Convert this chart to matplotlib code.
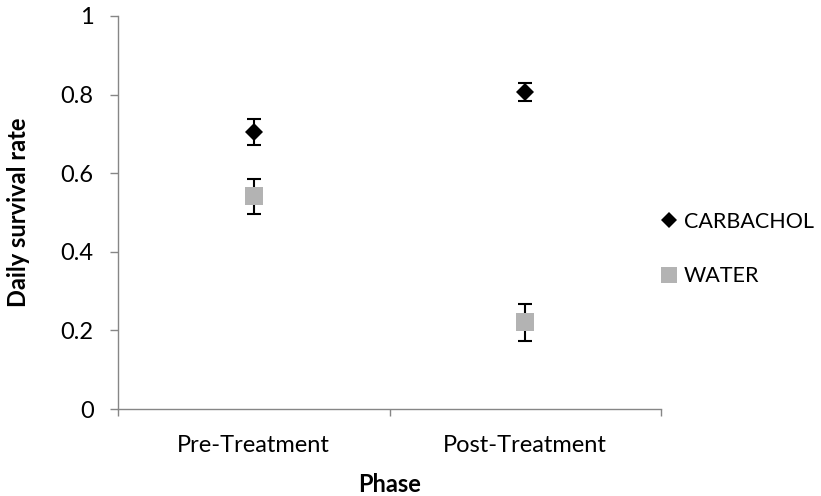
import matplotlib
matplotlib.use("Agg")
import matplotlib.pyplot as plt
from matplotlib.lines import Line2D

phases = ["Pre-Treatment", "Post-Treatment"]
carbachol = [0.705, 0.807]
carbachol_err = [0.032, 0.023]
water = [0.541, 0.221]
water_err = [0.044, 0.047]
series_names = ["CARBACHOL", "WATER"]
yticks = [0, 0.2, 0.4, 0.6, 0.8, 1]
ytick_labels = ["0", "0.2", "0.4", "0.6", "0.8", "1"]

plt.rcParams['font.family'] = ['Lato', 'DejaVu Sans']
FS = 17
W, H = 821, 496
fig = plt.figure(figsize=(W / 100, H / 100), dpi=100)
ax = fig.add_axes([118 / W, (H - 409) / H, (661 - 118) / W, (409 - 16) / H])

xpos = [i + 0.5 for i in range(len(phases))]
for vals, errs in [(carbachol, carbachol_err), (water, water_err)]:
    ax.errorbar(xpos, vals, yerr=errs, fmt='none', ecolor='black',
                elinewidth=1.5, capsize=4.7, capthick=1.5, zorder=2)
ax.plot(xpos, carbachol, linestyle='none', marker='D', color='black',
        markersize=9.2, markeredgewidth=0, zorder=3)
ax.plot(xpos, water, linestyle='none', marker='s', color='#B3B3B3',
        markersize=13.5, markeredgewidth=0, zorder=3)

ax.set_xlim(0, len(phases))
ax.set_ylim(0, 1)
ax.set_yticks(yticks)
ax.set_yticklabels(ytick_labels, fontsize=FS)
ax.set_xticks(range(len(phases) + 1))
ax.set_xticklabels([])
ax.set_xticks(xpos, minor=True)
ax.set_xticklabels(phases, minor=True, fontsize=FS)

spine_color = '#868686'
for s in ['top', 'right']:
    ax.spines[s].set_visible(False)
for s in ['left', 'bottom']:
    ax.spines[s].set_color(spine_color)
    ax.spines[s].set_linewidth(1.0)
ax.tick_params(axis='y', which='major', direction='out', length=5.5, width=1.0,
               color=spine_color, pad=12)
ax.tick_params(axis='x', which='major', direction='out', length=5, width=1.0,
               color=spine_color)
ax.tick_params(axis='x', which='minor', length=0, pad=19)

ax.set_ylabel("Daily survival rate", fontsize=FS, fontweight='bold')
ax.yaxis.set_label_coords(-(118 - 30) / (661 - 118), 0.5)
ax.set_xlabel("Phase", fontsize=FS, fontweight='bold', labelpad=12)

handles = [
    Line2D([], [], linestyle='none', marker='D', color='black', markersize=8.2,
           markeredgewidth=0),
    Line2D([], [], linestyle='none', marker='s', color='#B3B3B3', markersize=11.5,
           markeredgewidth=0),
]
leg = fig.legend(handles, series_names, loc='center left',
                 bbox_to_anchor=(660 / W, 1 - 249 / H), frameon=False,
                 fontsize=15.5, handlelength=0.8, handletextpad=0.3,
                 labelspacing=1.6, borderpad=0, borderaxespad=0)

fig.savefig("out.png", dpi=100)
